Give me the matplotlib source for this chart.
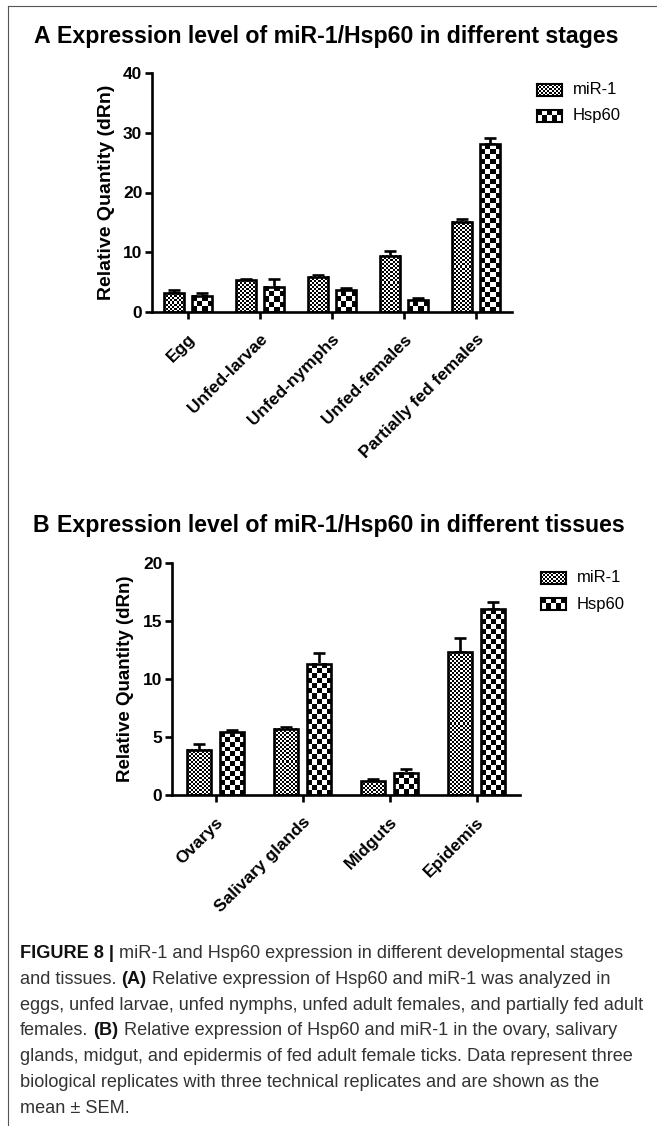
import numpy as np
import matplotlib
matplotlib.use("Agg")
import matplotlib.pyplot as plt
from matplotlib.lines import Line2D

# ==========================================
# Data
# ==========================================
stages = ["Egg", "Unfed-larvae", "Unfed-nymphs", "Unfed-females", "Partially fed females"]
stage_mir1 = [3.1, 5.3, 5.9, 9.4, 15.1]
stage_mir1_err = [0.6, 0.2, 0.3, 0.8, 0.4]
stage_hsp60 = [2.7, 4.2, 3.6, 2.0, 28.1]
stage_hsp60_err = [0.4, 1.4, 0.5, 0.3, 1.0]

tissues = ["Ovarys", "Salivary glands", "Midguts", "Epidemis"]
tissue_mir1 = [3.9, 5.7, 1.2, 12.3]
tissue_mir1_err = [0.5, 0.2, 0.2, 1.2]
tissue_hsp60 = [5.4, 11.3, 1.9, 16.0]
tissue_hsp60_err = [0.2, 0.9, 0.3, 0.6]

series_names = ["miR-1", "Hsp60"]

caption_lines = [
    [("FIGURE 8 |", True), ("miR-1 and Hsp60 expression in different developmental stages", False)],
    [("and tissues.", False), ("(A)", True), ("Relative expression of Hsp60 and miR-1 was analyzed in", False)],
    [("eggs, unfed larvae, unfed nymphs, unfed adult females, and partially fed adult", False)],
    [("females.", False), ("(B)", True), ("Relative expression of Hsp60 and miR-1 in the ovary, salivary", False)],
    [("glands, midgut, and epidermis of fed adult female ticks. Data represent three", False)],
    [("biological replicates with three technical replicates and are shown as the", False)],
    [("mean \u00b1 SEM.", False)],
]

# ==========================================
# Style
# ==========================================
W, H = 657, 1126
FONT = "Liberation Sans"
plt.rcParams["font.family"] = [FONT, "DejaVu Sans"]

fig = plt.figure(figsize=(W / 100, H / 100), dpi=100)
renderer = fig.canvas.get_renderer()


def fx(px):
    return px / W


def fy(py):
    return 1 - py / H


def checker(ny, nx):
    return np.indices((ny, nx)).sum(axis=0) % 2


def checker_fill(ax, bars, cell):
    # fill each bar with a checkerboard of fixed pixel size
    for bar in bars:
        x0, y0 = bar.get_x(), bar.get_y()
        x1, y1 = x0 + bar.get_width(), y0 + bar.get_height()
        (p0x, p0y), (p1x, p1y) = ax.transData.transform([(x0, y0), (x1, y1)])
        nx = max(1, int(round((p1x - p0x) / cell)))
        ny = max(1, int(round((p1y - p0y) / cell)))
        ax.imshow(checker(ny, nx), extent=(x0, x1, y0, y1), cmap="gray",
                  vmin=0, vmax=1, interpolation="nearest", aspect="auto",
                  origin="lower", zorder=2.5)


def draw_panel(ax, cats, mir, mir_err, hsp, hsp_err, ymax, ystep, ylab_size):
    x = np.arange(len(cats))
    w, off = 0.28, 0.19
    ax.set_xlim(-0.5, len(cats) - 0.5)
    ax.set_ylim(0, ymax)
    b1 = ax.bar(x - off, mir, w, facecolor="none", edgecolor="k", linewidth=1.9, zorder=3)
    b2 = ax.bar(x + off, hsp, w, facecolor="none", edgecolor="k", linewidth=1.9, zorder=3)
    for xs, v, e in [(x - off, mir, mir_err), (x + off, hsp, hsp_err)]:
        ax.errorbar(xs, v, yerr=[np.zeros(len(v)), e], fmt="none", ecolor="k",
                    elinewidth=1.9, capsize=4, capthick=1.9, zorder=2)
    checker_fill(ax, b1, 2)
    checker_fill(ax, b2, 5)
    ax.set_xlim(-0.5, len(cats) - 0.5)
    ax.set_ylim(0, ymax)

    for s in ["top", "right"]:
        ax.spines[s].set_visible(False)
    for s in ["left", "bottom"]:
        ax.spines[s].set_linewidth(1.9)
    ax.set_yticks(np.arange(0, ymax + 1, ystep))
    ax.set_xticks(x)
    ax.set_xticklabels(cats, rotation=45, ha="right", rotation_mode="anchor",
                       fontweight="bold", fontsize=12.5)
    ax.tick_params(axis="y", direction="out", length=5, width=1.9, labelsize=12.5, pad=2)
    ax.tick_params(axis="x", direction="out", length=5, width=1.9, pad=9)
    for lab in ax.get_yticklabels():
        lab.set_fontweight("bold")
    ax.set_ylabel("Relative Quantity (dRn)", fontsize=ylab_size, fontweight="bold", labelpad=6)


def legend(px, py):
    for i, (name, cell) in enumerate(zip(series_names, [2, 5])):
        top = py + i * 26 - 6
        lax = fig.add_axes([fx(px), fy(top + 12), fx(25), 12 / H])
        lax.imshow(checker(12 // cell, 25 // cell), cmap="gray", vmin=0, vmax=1,
                   interpolation="nearest", aspect="auto")
        lax.set_xticks([])
        lax.set_yticks([])
        for s in lax.spines.values():
            s.set_linewidth(1.5)
        fig.text(fx(px + 36), fy(top + 6), name, fontsize=12, va="center", ha="left")


def text_width(t):
    return t.get_window_extent(renderer).width


def title(py, letter, txt, size):
    fig.text(fx(33), fy(py), letter, fontsize=size, fontweight="bold", va="baseline")
    fig.text(fx(57), fy(py), txt, fontsize=size, fontweight="bold", va="baseline")


# ==========================================
# Panels
# ==========================================
axA = fig.add_axes([fx(152), fy(312), fx(512 - 152), (312 - 73) / H])
draw_panel(axA, stages, stage_mir1, stage_mir1_err, stage_hsp60, stage_hsp60_err, 40, 10, 14)
axB = fig.add_axes([fx(172), fy(795), fx(520 - 172), (795 - 563) / H])
draw_panel(axB, tissues, tissue_mir1, tissue_mir1_err, tissue_hsp60, tissue_hsp60_err, 20, 5, 13.5)

title(43, "A", "Expression level of miR-1/Hsp60 in different stages", 16.7)
title(532, "B", "Expression level of miR-1/Hsp60 in different tissues", 16.7)
legend(537, 90)
legend(541, 578)

# ==========================================
# Caption
# ==========================================
probe = fig.text(0, 0, "eggs, unfed larvae, unfed nymphs, unfed adult females, and partially fed adult",
                 fontsize=10)
cap_size = 10 * 627 / text_width(probe)
probe.remove()
sp = fig.text(0, 0, "x x", fontsize=cap_size)
sp2 = fig.text(0, 0, "xx", fontsize=cap_size)
space = text_width(sp) - text_width(sp2)
sp.remove()
sp2.remove()

for i, parts in enumerate(caption_lines):
    xpx = 20
    ypx = 958 + i * 25.8
    for txt, bold in parts:
        t = fig.text(fx(xpx), fy(ypx), txt, fontsize=cap_size, va="baseline", ha="left",
                     fontweight="bold" if bold else "normal",
                     color="#111111" if bold else "#333333")
        xpx += text_width(t) + space

# frame around the figure
fig.add_artist(Line2D([fx(8), fx(8)], [0, fy(6)], color="#555555", lw=0.8))
fig.add_artist(Line2D([fx(8), 1], [fy(6), fy(6)], color="#555555", lw=0.8))

fig.savefig("out.png", dpi=100)
